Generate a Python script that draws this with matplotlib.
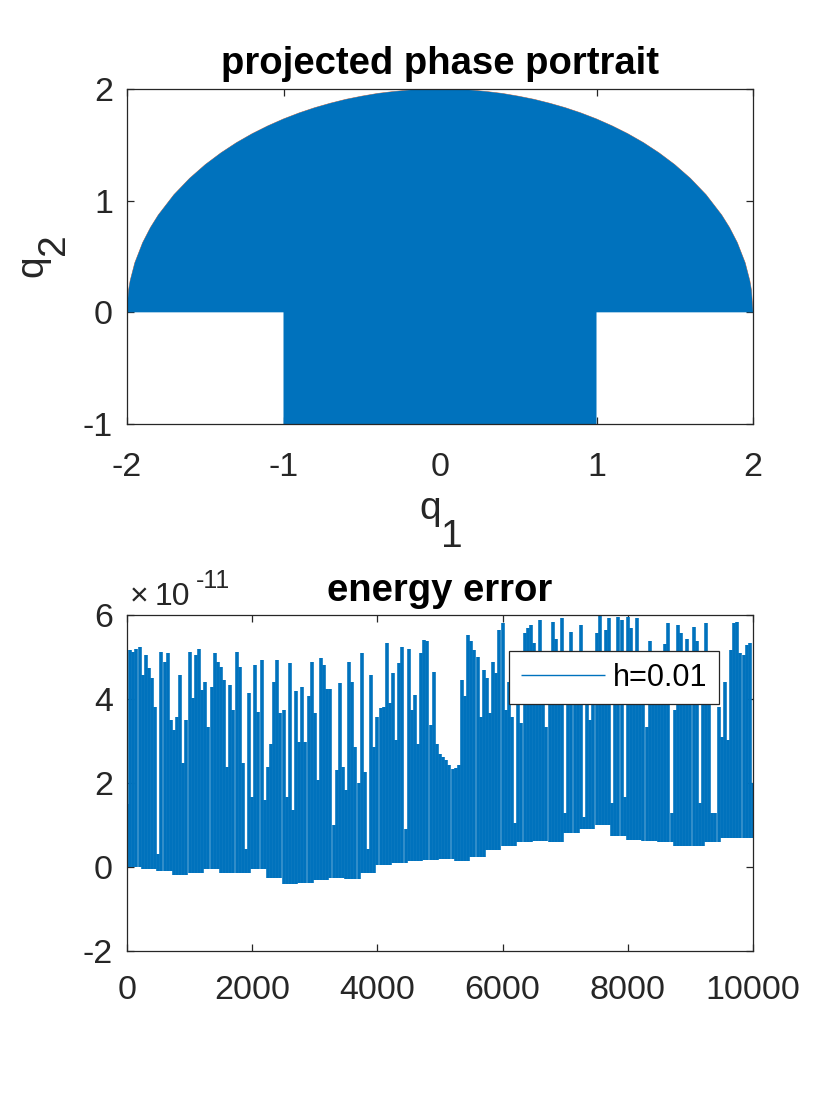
import numpy as np
import matplotlib
matplotlib.use("Agg")
import matplotlib.pyplot as plt

plt.rcParams['font.family'] = ['Liberation Sans', 'DejaVu Sans']

BLUE = '#0072BD'
DARK = '#262626'
W, H = 830, 1108

# ---------------- top panel data: boundary of the projected phase portrait
arc_q1 = [-2.0, -1.99, -1.98, -1.95, -1.9, -1.85, -1.8, -1.7, -1.6, -1.5, -1.4, -1.3, -1.2,
          -1.1, -1.0, -0.9, -0.8, -0.7, -0.6, -0.5, -0.4, -0.3, -0.2, -0.1, 0.0,
          0.1, 0.2, 0.3, 0.4, 0.5, 0.6, 0.7, 0.8, 0.9, 1.0, 1.1, 1.2, 1.3, 1.4,
          1.5, 1.6, 1.7, 1.8, 1.85, 1.9, 1.95, 1.98, 1.99, 2.0]
arc_q2 = [0.0, 0.2, 0.282, 0.444, 0.624, 0.760, 0.872, 1.054, 1.2, 1.323, 1.428, 1.520, 1.6,
          1.670, 1.732, 1.786, 1.833, 1.873, 1.908, 1.936, 1.960, 1.977, 1.990, 1.997, 2.0,
          1.997, 1.990, 1.977, 1.960, 1.936, 1.908, 1.873, 1.833, 1.786, 1.732, 1.670, 1.6, 1.520, 1.428,
          1.323, 1.2, 1.054, 0.872, 0.760, 0.624, 0.444, 0.282, 0.2, 0.0]
rect_q1 = [1.0, 1.0, -1.0, -1.0]
rect_q2 = [0.0, -1.0, -1.0, 0.0]

# ---------------- bottom panel data: energy error (units of 1e-11)
t_samples = [
    0, 50, 100, 150, 200, 250, 300, 350, 400, 450, 500, 550, 600, 650, 700, 750, 800, 850, 900, 950,
    1000, 1050, 1100, 1150, 1200, 1250, 1300, 1350, 1400, 1450, 1500, 1550, 1600, 1650, 1700, 1750, 1800, 1850, 1900, 1950,
    2000, 2050, 2100, 2150, 2200, 2250, 2300, 2350, 2400, 2450, 2500, 2550, 2600, 2650, 2700, 2750, 2800, 2850, 2900, 2950,
    3000, 3050, 3100, 3150, 3200, 3250, 3300, 3350, 3400, 3450, 3500, 3550, 3600, 3650, 3700, 3750, 3800, 3850, 3900, 3950,
    4000, 4050, 4100, 4150, 4200, 4250, 4300, 4350, 4400, 4450, 4500, 4550, 4600, 4650, 4700, 4750, 4800, 4850, 4900, 4950,
    5000, 5050, 5100, 5150, 5200, 5250, 5300, 5350, 5400, 5450, 5500, 5550, 5600, 5650, 5700, 5750, 5800, 5850, 5900, 5950,
    6000, 6050, 6100, 6150, 6200, 6250, 6300, 6350, 6400, 6450, 6500, 6550, 6600, 6650, 6700, 6750, 6800, 6850, 6900, 6950,
    7000, 7050, 7100, 7150, 7200, 7250, 7300, 7350, 7400, 7450, 7500, 7550, 7600, 7650, 7700, 7750, 7800, 7850, 7900, 7950,
    8000, 8050, 8100, 8150, 8200, 8250, 8300, 8350, 8400, 8450, 8500, 8550, 8600, 8650, 8700, 8750, 8800, 8850, 8900, 8950,
    9000, 9050, 9100, 9150, 9200, 9250, 9300, 9350, 9400, 9450, 9500, 9550, 9600, 9650, 9700, 9750, 9800, 9850, 9900, 9950,
    10000]
err_high = [
    1.5, 5.17, 5.13, 5.2, 5.25, 4.57, 5.05, 4.73, 4.49, 3.82, 0.3, 5.13, 4.89, 5.09, 3.5, 3.26, 3.58, 4.57, 2.47, 3.5,
    5.13, 4.02, 5.05, 5.2, 4.22, 4.41, 3.34, 4.29, 5.09, 4.89, 4.77, 4.45, 2.39, 4.33, 3.74, 5.13, 4.77, 2.47, 0.44, 4.14,
    1.67, 4.81, 3.7, 4.93, 1.6, 2.39, 2.94, 4.41, 4.93, 3.66, 3.74, 1.67, 4.85, 1.36, 4.18, 2.98, 4.29, 2.98, 4.06, 4.89,
    3.66, 2.07, 4.97, 4.81, 4.25, 4.25, 1.0, 2.3, 4.37, 2.39, 1.83, 4.89, 4.41, 2.86, 1.99, 5.09, 2.27, 0.44, 4.57, 2.86,
    3.58, 3.78, 3.82, 5.33, 3.9, 4.61, 3.02, 4.85, 5.25, 0.9, 5.2, 3.74, 4.1, 2.94, 5.09, 5.4, 5.37, 3.38, 4.65, 2.94,
    2.7, 2.63, 2.55, 2.43, 2.33, 2.35, 2.43, 4.45, 4.06, 5.52, 5.37, 5.17, 5.0, 3.58, 4.69, 4.49, 3.66, 4.89, 4.61, 5.64,
    5.8, 3.74, 4.41, 3.58, 1.04, 4.14, 3.42, 5.56, 5.68, 5.76, 5.33, 4.5, 5.88, 5.0, 3.34, 4.5, 5.84, 5.44, 4.5, 5.92,
    1.28, 4.6, 5.6, 4.8, 4.5, 5.76, 1.2, 4.7, 3.5, 4.9, 5.56, 6.0, 4.8, 5.64, 5.92, 1.52, 4.6, 5.96, 5.88, 1.67,
    5.96, 5.68, 4.5, 5.92, 4.7, 4.3, 3.34, 5.37, 4.5, 4.6, 4.8, 4.3, 5.3, 5.8, 1.28, 3.74, 5.76, 5.56, 4.8, 5.44,
    4.5, 5.72, 5.37, 1.52, 4.2, 5.8, 4.6, 1.28, 1.28, 3.8, 3.1, 4.41, 3.02, 5.17, 5.8, 5.84, 5.09, 5.05, 5.29, 5.33,
    2.0]
# lower envelope, one value per 250 time units
err_low = [0.0, -0.05, -0.1, -0.2, -0.15, -0.05, -0.15, -0.15, -0.05, -0.25, -0.4, -0.38, -0.3, -0.25,
           -0.28, -0.15, 0.05, 0.1, 0.15, 0.17, 0.2, 0.15, 0.25, 0.4, 0.5, 0.6, 0.62, 0.6, 0.8, 0.9,
           1.0, 0.75, 0.65, 0.62, 0.6, 0.5, 0.5, 0.6, 0.7, 0.7, 0.7]

x_ticks_top = [-2, -1, 0, 1, 2]
y_ticks_top = [-1, 0, 1, 2]
x_ticks_bot = [0, 2000, 4000, 6000, 8000, 10000]
y_ticks_bot = [-2, 0, 2, 4, 6]

FS = 24.5    # tick labels
FT = 27.5    # titles
FL = 28      # axis labels

fig = plt.figure(figsize=(8.3, 11.08), dpi=100)


def px(x, y):
    return x / W, 1 - y / H


def style(ax):
    for s in ax.spines.values():
        s.set_color(DARK)
        s.set_linewidth(0.9)
    ax.tick_params(direction='in', length=5, width=0.9, colors=DARK, labelsize=FS,
                   top=True, right=True, labelcolor=DARK)


# ---- top
ax1 = fig.add_axes([127 / W, 1 - 424 / H, 626 / W, 335 / H])
ax1.plot(arc_q1, arc_q2, color='#D95319', lw=0.4, zorder=1)
poly_q1 = list(arc_q1) + rect_q1
poly_q2 = list(arc_q2) + rect_q2
ax1.fill(poly_q1, poly_q2, color=BLUE, lw=0, zorder=2)
ax1.set_xlim(-2, 2)
ax1.set_ylim(-1, 2)
ax1.set_xticks(x_ticks_top)
ax1.set_yticks(y_ticks_top)
ax1.set_xticklabels([str(v) for v in x_ticks_top])
ax1.set_yticklabels([str(v) for v in y_ticks_top])
style(ax1)
ax1.tick_params(axis='x', pad=20)
ax1.tick_params(axis='y', pad=10)
ax1.set_title('projected phase portrait', fontsize=FT, fontweight='bold', pad=10.5, color='black')

# x label "q" with subscript "1"
fig.text(*px(430, 519), 'q', fontsize=FL, color=DARK, ha='center', va='baseline')
fig.text(*px(441, 547), '1', fontsize=FL, color=DARK, ha='left', va='baseline')
# y label "q" with subscript "2" (rotated)
fig.text(*px(42.5, 266), 'q', fontsize=FL, color=DARK, ha='center', va='baseline',
         rotation=90, rotation_mode='anchor')
fig.text(*px(64, 244), '2', fontsize=FL, color=DARK, ha='center', va='baseline',
         rotation=90, rotation_mode='anchor')

# ---- bottom
ax2 = fig.add_axes([127 / W, 1 - 951 / H, 626 / W, 336 / H])
t_arr = np.array(t_samples)
hi_arr = np.array(err_high)
lo_arr = np.array(err_low)[np.arange(len(t_arr)) // 5]
ax2.vlines(t_arr, lo_arr, hi_arr, colors=BLUE, lw=2.6, label='h=0.01')
ax2.set_xlim(0, 10000)
ax2.set_ylim(-2, 6)
ax2.set_xticks(x_ticks_bot)
ax2.set_yticks(y_ticks_bot)
ax2.set_xticklabels([str(v) for v in x_ticks_bot])
ax2.set_yticklabels([str(v) for v in y_ticks_bot])
style(ax2)
ax2.tick_params(axis='x', pad=17)
ax2.tick_params(axis='y', pad=10)
ax2.set_title('energy error', fontsize=FT, fontweight='bold', pad=10, color='black')

# exponent label
fig.text(*px(130, 605), '\u00d7', fontsize=23, color=DARK, ha='left', va='baseline')
fig.text(*px(155, 605), '10', fontsize=23, color=DARK, ha='left', va='baseline')
fig.text(*px(196, 588), '-11', fontsize=18, color=DARK, ha='left', va='baseline')

leg = ax2.legend(loc='upper right', bbox_to_anchor=(0.946, 0.893), borderaxespad=0,
                 fontsize=22, frameon=True, fancybox=False, handlelength=2.75,
                 handletextpad=0.27, borderpad=0.38)
leg.get_frame().set_edgecolor(DARK)
leg.get_frame().set_linewidth(0.9)
leg.get_frame().set_alpha(1)
for h in leg.legend_handles:
    h.set_linewidth(1.0)

fig.savefig('out.png', dpi=100)
